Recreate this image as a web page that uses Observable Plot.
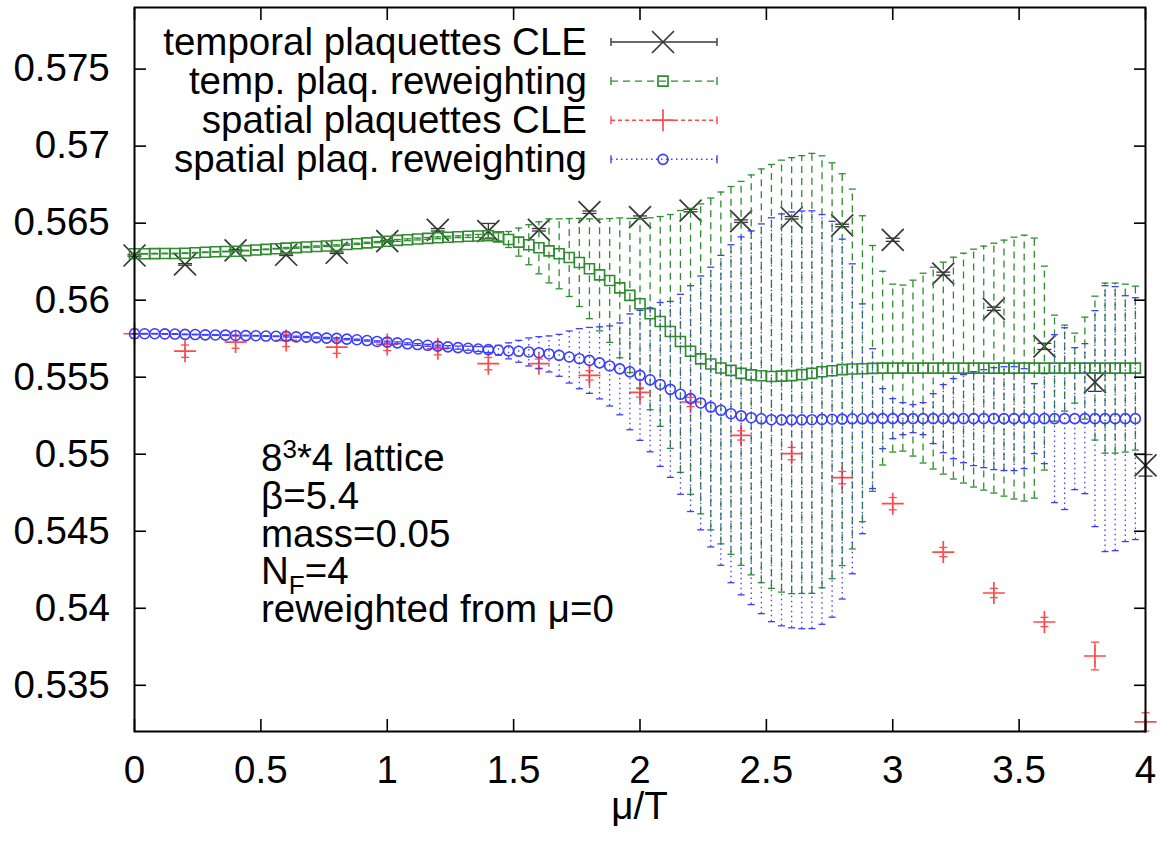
<!DOCTYPE html>
<html><head><meta charset="utf-8">
<script src="https://cdn.jsdelivr.net/npm/d3@7"></script>
<script src="https://cdn.jsdelivr.net/npm/@observablehq/plot@0.6"></script>
<style>body{margin:0;background:#fff}#chart svg{display:block}</style>
</head><body><div id="chart"></div>
<script>
// ---------- data ----------
const xTicks = [0, 0.5, 1, 1.5, 2, 2.5, 3, 3.5, 4];
const yTicks = [0.535, 0.54, 0.545, 0.55, 0.555, 0.56, 0.565, 0.57, 0.575];
const legendLabels = ["temporal plaquettes CLE", "temp. plaq. reweighting", "spatial plaquettes CLE", "spatial plaq. reweighting"];

const muCLE = [0, 0.2, 0.4, 0.6, 0.8, 1.0, 1.2, 1.4, 1.6, 1.8, 2.0, 2.2, 2.4, 2.6, 2.8, 3.0, 3.2, 3.4, 3.6, 3.8, 4.0];
const temporalCLE = [0.56290, 0.56232, 0.56323, 0.56295, 0.56308, 0.56383, 0.56457, 0.56448, 0.56457, 0.56571, 0.56539, 0.56582, 0.56513, 0.56535, 0.56485, 0.56392, 0.56172, 0.55944, 0.55700, 0.55468, 0.54928];
const temporalCLEErr = [0.00005, 0.00005, 0.00005, 0.00005, 0.00005, 0.00005, 0.00008, 0.0005, 0.00008, 0.00008, 0.00008, 0.00008, 0.00008, 0.00008, 0.00008, 0.0001, 0.0001, 0.0001, 0.0002, 0.0006, 0.0007];
const spatialCLE = [0.55782, 0.55669, 0.55728, 0.55739, 0.55695, 0.55713, 0.55685, 0.55588, 0.55588, 0.55512, 0.55401, 0.55339, 0.55122, 0.55004, 0.54848, 0.54679, 0.54365, 0.54099, 0.53911, 0.53690, 0.53262];
const spatialCLEErr = [0.0003, 0.0004, 0.0004, 0.0004, 0.0004, 0.0004, 0.0004, 0.0004, 0.0003, 0.0003, 0.0003, 0.0003, 0.0003, 0.0004, 0.0004, 0.0004, 0.0003, 0.0003, 0.0003, 0.0009, 0.0006];

const muRW = [
  0.00, 0.04, 0.08, 0.12, 0.16, 0.20, 0.24, 0.28, 0.32, 0.36,
  0.40, 0.44, 0.48, 0.52, 0.56, 0.60, 0.64, 0.68, 0.72, 0.76,
  0.80, 0.84, 0.88, 0.92, 0.96, 1.00, 1.04, 1.08, 1.12, 1.16,
  1.20, 1.24, 1.28, 1.32, 1.36, 1.40, 1.44, 1.48, 1.52, 1.56,
  1.60, 1.64, 1.68, 1.72, 1.76, 1.80, 1.84, 1.88, 1.92, 1.96,
  2.00, 2.04, 2.08, 2.12, 2.16, 2.20, 2.24, 2.28, 2.32, 2.36,
  2.40, 2.44, 2.48, 2.52, 2.56, 2.60, 2.64, 2.68, 2.72, 2.76,
  2.80, 2.84, 2.88, 2.92, 2.96, 3.00, 3.04, 3.08, 3.12, 3.16,
  3.20, 3.24, 3.28, 3.32, 3.36, 3.40, 3.44, 3.48, 3.52, 3.56,
  3.60, 3.64, 3.68, 3.72, 3.76, 3.80, 3.84, 3.88, 3.92, 3.96];
const temporalRW = [
  0.56301, 0.56301, 0.56302, 0.56303, 0.56303, 0.56305, 0.56308, 0.56311, 0.56314, 0.56316,
  0.56318, 0.56322, 0.56326, 0.56330, 0.56334, 0.56338, 0.56341, 0.56345, 0.56348, 0.56352,
  0.56355, 0.56361, 0.56366, 0.56372, 0.56377, 0.56383, 0.56388, 0.56392, 0.56397, 0.56401,
  0.56405, 0.56409, 0.56412, 0.56415, 0.56417, 0.56418, 0.56411, 0.56394, 0.56377, 0.56360,
  0.56340, 0.56320, 0.56301, 0.56277, 0.56245, 0.56204, 0.56164, 0.56128, 0.56080, 0.56031,
  0.55977, 0.55912, 0.55862, 0.55797, 0.55732, 0.55668, 0.55619, 0.55586, 0.55560, 0.55544,
  0.55525, 0.55515, 0.55509, 0.55505, 0.55507, 0.55510, 0.55517, 0.55525, 0.55535, 0.55542,
  0.55549, 0.55553, 0.55555, 0.55557, 0.55559, 0.55559, 0.55559, 0.55559, 0.55559, 0.55559,
  0.55559, 0.55559, 0.55559, 0.55559, 0.55559, 0.55559, 0.55559, 0.55559, 0.55559, 0.55559,
  0.55559, 0.55559, 0.55559, 0.55559, 0.55559, 0.55559, 0.55559, 0.55559, 0.55559, 0.55559];
const temporalRWErr = [
  0.00002, 0.00002, 0.00002, 0.00002, 0.00002, 0.00002, 0.00002, 0.00002, 0.00002, 0.00002,
  0.00002, 0.00002, 0.00002, 0.00002, 0.00002, 0.00004, 0.00004, 0.00004, 0.00004, 0.00004,
  0.00004, 0.00004, 0.00004, 0.00004, 0.00004, 0.00006, 0.00006, 0.00006, 0.00006, 0.00006,
  0.00006, 0.00006, 0.00006, 0.00008, 0.00010, 0.00013, 0.00026, 0.00052, 0.00091, 0.00130,
  0.00169, 0.00208, 0.00227, 0.00253, 0.00286, 0.00324, 0.00363, 0.00402, 0.00454, 0.00500,
  0.00552, 0.00623, 0.00681, 0.00759, 0.00850, 0.00928, 0.01006, 0.01077, 0.01142, 0.01194,
  0.01246, 0.01298, 0.01343, 0.01376, 0.01402, 0.01415, 0.01421, 0.01428, 0.01402, 0.01350,
  0.01272, 0.01168, 0.00993, 0.00798, 0.00629, 0.00545, 0.00539, 0.00571, 0.00616, 0.00655,
  0.00688, 0.00720, 0.00746, 0.00772, 0.00792, 0.00811, 0.00831, 0.00850, 0.00863, 0.00844,
  0.00662, 0.00344, 0.00279, 0.00227, 0.00331, 0.00467, 0.00552, 0.00552, 0.00545, 0.00532];
const spatialRW = [
  0.55782, 0.55782, 0.55782, 0.55781, 0.55780, 0.55778, 0.55777, 0.55775, 0.55774, 0.55773,
  0.55771, 0.55770, 0.55769, 0.55767, 0.55766, 0.55765, 0.55762, 0.55760, 0.55757, 0.55754,
  0.55752, 0.55747, 0.55743, 0.55738, 0.55732, 0.55728, 0.55723, 0.55717, 0.55712, 0.55707,
  0.55702, 0.55697, 0.55692, 0.55688, 0.55683, 0.55679, 0.55675, 0.55671, 0.55668, 0.55664,
  0.55659, 0.55651, 0.55642, 0.55631, 0.55620, 0.55609, 0.55593, 0.55573, 0.55554, 0.55535,
  0.55512, 0.55483, 0.55453, 0.55421, 0.55389, 0.55361, 0.55333, 0.55306, 0.55285, 0.55263,
  0.55249, 0.55237, 0.55230, 0.55224, 0.55223, 0.55223, 0.55223, 0.55224, 0.55226, 0.55227,
  0.55228, 0.55230, 0.55230, 0.55231, 0.55231, 0.55231, 0.55231, 0.55231, 0.55231, 0.55231,
  0.55231, 0.55231, 0.55231, 0.55231, 0.55231, 0.55231, 0.55231, 0.55231, 0.55231, 0.55231,
  0.55231, 0.55231, 0.55231, 0.55231, 0.55231, 0.55231, 0.55231, 0.55231, 0.55231, 0.55231];
const spatialRWErr = [
  0.00002, 0.00002, 0.00002, 0.00002, 0.00002, 0.00002, 0.00002, 0.00002, 0.00002, 0.00002,
  0.00002, 0.00002, 0.00002, 0.00002, 0.00002, 0.00004, 0.00004, 0.00004, 0.00004, 0.00004,
  0.00004, 0.00004, 0.00004, 0.00004, 0.00004, 0.00006, 0.00006, 0.00006, 0.00006, 0.00006,
  0.00006, 0.00008, 0.00010, 0.00013, 0.00016, 0.00019, 0.00032, 0.00052, 0.00071, 0.00091,
  0.00104, 0.00117, 0.00136, 0.00169, 0.00195, 0.00214, 0.00234, 0.00260, 0.00298, 0.00376,
  0.00422, 0.00467, 0.00532, 0.00571, 0.00649, 0.00733, 0.00824, 0.00908, 0.01006, 0.01097,
  0.01162, 0.01213, 0.01265, 0.01311, 0.01337, 0.01350, 0.01356, 0.01356, 0.01330, 0.01285,
  0.01168, 0.01006, 0.00746, 0.00454, 0.00195, 0.00130, 0.00104, 0.00091, 0.00104, 0.00162,
  0.00221, 0.00260, 0.00286, 0.00305, 0.00318, 0.00331, 0.00337, 0.00337, 0.00324, 0.00227,
  0.00292, 0.00545, 0.00590, 0.00461, 0.00487, 0.00701, 0.00863, 0.00857, 0.00798, 0.00785];

// ---------- build ----------
const FONT = "'Liberation Sans', Arial, Helvetica, sans-serif";
const FS = 38.5;
const cBlack = "#383838", cGreen = "#2f8c2f", cRed = "#ff4a4a", cBlue = "#3c3cff";

const rad = s => Math.sqrt(s / Math.PI);
const symX = {draw(c, s) { const r = rad(s); c.moveTo(-r, -r); c.lineTo(r, r); c.moveTo(-r, r); c.lineTo(r, -r); }};
const symPlus = {draw(c, s) { const r = rad(s); c.moveTo(-r, 0); c.lineTo(r, 0); c.moveTo(0, -r); c.lineTo(0, r); }};
const symSquare = {draw(c, s) { const r = rad(s); c.moveTo(-r, -r); c.lineTo(r, -r); c.lineTo(r, r); c.lineTo(-r, r); c.closePath(); }};
const symCircle = {draw(c, s) { const r = rad(s); c.moveTo(r, 0); c.arc(0, 0, r, 0, 2 * Math.PI); }};
const symCap = {draw(c, s) { const r = rad(s); c.moveTo(-r, 0); c.lineTo(r, 0); }};

const cle = muCLE.map((mu, i) => ({mu, v: temporalCLE[i], e: temporalCLEErr[i], s: spatialCLE[i], se: spatialCLEErr[i]}));
const rw = muRW.map((mu, i) => ({mu, v: temporalRW[i], e: temporalRWErr[i], s: spatialRW[i], se: spatialRWErr[i]}));

function errMarks(data, val, err, color, dash, capR, sw) {
  return [
    Plot.ruleX(data, {x: "mu", y1: d => d[val] - d[err], y2: d => d[val] + d[err], stroke: color, strokeWidth: sw, strokeDasharray: dash}),
    Plot.dot(data, {x: "mu", y: d => d[val] + d[err], symbol: symCap, r: capR, stroke: color, strokeWidth: sw, fill: "none"}),
    Plot.dot(data, {x: "mu", y: d => d[val] - d[err], symbol: symCap, r: capR, stroke: color, strokeWidth: sw, fill: "none"})
  ];
}

const fmtY = d => String(+d.toFixed(3));

const chart = Plot.plot({
  width: 1160, height: 852,
  marginLeft: 134, marginRight: 15, marginTop: 7, marginBottom: 121,
  x: {domain: [0, 4]},
  y: {domain: [0.532, 0.579]},
  style: {fontFamily: FONT, fontSize: FS + "px", background: "white", color: "black", overflow: "visible"},
  marks: [
    // temporal plaquettes CLE
    ...errMarks(cle, "v", "e", cBlack, null, 7, 1.3),
    Plot.dot(cle, {x: "mu", y: "v", symbol: symX, r: 11, stroke: cBlack, strokeWidth: 1.7, fill: "none"}),
    // temp. plaq. reweighting
    ...errMarks(rw, "v", "e", cGreen, "7,5", 3.5, 1.3),
    Plot.dot(rw, {x: "mu", y: "v", symbol: symSquare, r: 5, stroke: cGreen, strokeWidth: 1.6, fill: "none"}),
    // spatial plaquettes CLE
    ...errMarks(cle, "s", "se", cRed, "3,3", 4, 1.3),
    Plot.dot(cle, {x: "mu", y: "s", symbol: symPlus, r: 11, stroke: cRed, strokeWidth: 1.7, fill: "none"}),
    // spatial plaq. reweighting
    ...errMarks(rw, "s", "se", cBlue, "1.5,3.5", 3.5, 1.3),
    Plot.dot(rw, {x: "mu", y: "s", symbol: symCircle, r: 5, stroke: cBlue, strokeWidth: 1.6, fill: "none"}),
    // axes (inward ticks, mirrored)
    Plot.axisX({anchor: "bottom", ticks: xTicks, tickSize: -12, tickPadding: 36.5, tickFormat: d => String(d), label: null, strokeWidth: 1.6}),
    Plot.axisX({anchor: "top", ticks: xTicks, tickSize: -12, tickFormat: () => "", label: null, strokeWidth: 1.6}),
    Plot.axisY({anchor: "left", ticks: yTicks, tickSize: -12, tickPadding: 36.7, tickFormat: fmtY, label: null, strokeWidth: 1.6}),
    Plot.axisY({anchor: "right", ticks: yTicks, tickSize: -12, tickFormat: () => "", label: null, strokeWidth: 1.6}),
    Plot.frame({stroke: "black", strokeWidth: 2})
  ]
});
document.getElementById("chart").appendChild(chart);

// ---------- overlay: x label, key, annotation ----------
const svg = d3.select(chart);
const ov = svg.append("g").attr("font-family", FONT).attr("font-size", FS).attr("fill", "black").attr("text-anchor", "start");

ov.append("text").attr("x", 639.5).attr("y", 819).attr("text-anchor", "middle").text("\u03bc/T");

const keyStyles = [
  {color: cBlack, dash: null, sym: symX, r: 11},
  {color: cGreen, dash: "7,5", sym: symSquare, r: 5},
  {color: cRed, dash: "4,3", sym: symPlus, r: 11},
  {color: cBlue, dash: "1.5,3.5", sym: symCircle, r: 5}
];
legendLabels.forEach((lab, i) => {
  const ry = 42 + i * 39.1;
  const st = keyStyles[i];
  ov.append("text").attr("x", 587).attr("y", ry + 12.5).attr("text-anchor", "end").text(lab);
  const g = ov.append("g").attr("stroke", st.color).attr("fill", "none").attr("stroke-width", 1.4);
  g.append("line").attr("x1", 611).attr("x2", 717).attr("y1", ry).attr("y2", ry).attr("stroke-dasharray", st.dash);
  g.append("line").attr("x1", 611).attr("x2", 611).attr("y1", ry - 4).attr("y2", ry + 4);
  g.append("line").attr("x1", 717).attr("x2", 717).attr("y1", ry - 4).attr("y2", ry + 4);
  g.append("path").attr("transform", `translate(663,${ry})`).attr("stroke-width", 1.7)
    .attr("d", d3.symbol(st.sym, st.r * st.r * Math.PI)());
});

const ann = ov.append("g").attr("text-anchor", "start");
const ax = 261, ay = 471, al = 37.75;
let t = ann.append("text").attr("x", ax).attr("y", ay).attr("text-anchor", "start");
t.append("tspan").text("8");
t.append("tspan").attr("font-size", 26).attr("dy", -13).text("3");
t.append("tspan").attr("dy", 13).text("*4 lattice");
ann.append("text").attr("x", ax).attr("y", ay + al).attr("text-anchor", "start").text("\u03b2=5.4");
ann.append("text").attr("x", ax).attr("y", ay + 2 * al).attr("text-anchor", "start").text("mass=0.05");
t = ann.append("text").attr("x", ax).attr("y", ay + 3 * al).attr("text-anchor", "start");
t.append("tspan").text("N");
t.append("tspan").attr("font-size", 26).attr("dy", 10).text("F");
t.append("tspan").attr("dy", -10).text("=4");
ann.append("text").attr("x", ax).attr("y", ay + 4 * al).attr("text-anchor", "start").text("reweighted from \u03bc=0");
</script></body></html>
